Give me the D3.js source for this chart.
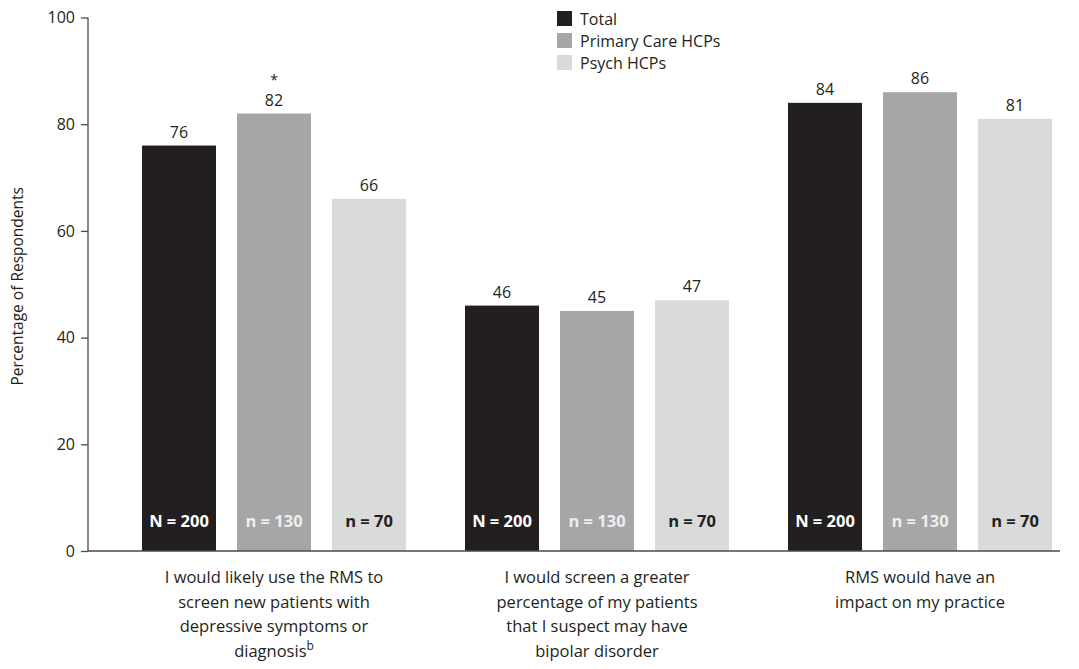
<!DOCTYPE html>
<html>
<head>
<meta charset="utf-8">
<script src="https://cdn.jsdelivr.net/npm/d3@7"></script>
<style>
  html, body { margin: 0; padding: 0; background: #fff; }
  svg { display: block; font-family: "Open Sans", "Noto Sans", sans-serif; }
</style>
</head>
<body>
<svg id="chart" width="1079" height="669"></svg>
<script>
// Survey statements (x categories), split into lines for display
const categories = ["use", "screen", "impact"];
const categoryLines = [
  ["I would likely use the RMS to", "screen new patients with", "depressive symptoms or", "diagnosis"],
  ["I would screen a greater", "percentage of my patients", "that I suspect may have", "bipolar disorder"],
  ["RMS would have an", "impact on my practice"]
];
const categoryFootnotes = ["b", "", ""];

// Respondent groups
const seriesNames = ["Total", "Primary Care HCPs", "Psych HCPs"];
const seriesSizes = ["N = 200", "n = 130", "n = 70"];

// Percentage of respondents agreeing, per group
const totalValues = [76, 46, 84];
const primaryCareValues = [82, 45, 86];
const psychValues = [66, 47, 81];
const seriesValues = [totalValues, primaryCareValues, psychValues];

// Significance marker per group per category
const significance = [["", "", ""], ["*", "", ""], ["", "", ""]];

const yTicks = [0, 20, 40, 60, 80, 100];

const colors = ["#231f20", "#a6a6a6", "#d9dada"];
const sizeLabelColors = ["#ffffff", "#eeeeee", "#231f20"];

const svg = d3.select("#chart");
const axisColor = "#4a4a4a";

const y = d3.scaleLinear().domain([0, 100]).range([551, 17.5]);
const x = d3.scaleBand().domain(categories).range([112.5, 1081.5]).paddingInner(0).paddingOuter(0);
const xInner = d3.scaleBand().domain(seriesNames).range([-132, 132]).paddingInner(0.221).paddingOuter(0);

// Y axis
const yAxis = svg.append("g")
  .attr("transform", "translate(88,0)")
  .call(d3.axisLeft(y).tickValues(yTicks).tickSize(7).tickPadding(6));
yAxis.select(".domain").attr("stroke", axisColor).attr("stroke-width", 1.3)
  .attr("d", `M0,${y(100)}V${y(0)}`);
yAxis.selectAll(".tick line").attr("stroke", axisColor).attr("stroke-width", 1.3);
yAxis.selectAll(".tick text")
  .attr("font-size", 16).attr("fill", "#231f20")
  .attr("font-family", "'Open Sans', sans-serif");

// Y axis title
svg.append("text")
  .attr("transform", `translate(23,${(y(0) + y(100)) / 2 + 2}) rotate(-90)`)
  .attr("text-anchor", "middle")
  .attr("font-size", 15.5).attr("fill", "#231f20")
  .text("Percentage of Respondents");

// Bars
const groups = svg.append("g").selectAll("g")
  .data(categories)
  .join("g")
  .attr("transform", c => `translate(${x(c) + x.bandwidth() / 2},0)`);

groups.each(function (c, ci) {
  const g = d3.select(this);
  seriesNames.forEach((s, si) => {
    const v = seriesValues[si][ci];
    const bx = xInner(s);
    const bw = xInner.bandwidth();
    g.append("rect")
      .attr("x", bx).attr("width", bw)
      .attr("y", y(v)).attr("height", y(0) - y(v))
      .attr("fill", colors[si]);
    // value label
    g.append("text")
      .attr("x", bx + bw / 2).attr("y", y(v) - 8)
      .attr("text-anchor", "middle")
      .attr("font-size", 16).attr("fill", "#231f20")
      .text(v);
    if (significance[si][ci]) {
      g.append("text")
        .attr("x", bx + bw / 2).attr("y", y(v) - 29)
        .attr("text-anchor", "middle")
        .attr("font-size", 14).attr("fill", "#231f20")
        .text(significance[si][ci]);
    }
    // group size label inside the bar
    g.append("text")
      .attr("x", bx + bw / 2).attr("y", y(0) - 24)
      .attr("text-anchor", "middle")
      .attr("font-size", 16.5).attr("font-weight", "bold")
      .attr("fill", sizeLabelColors[si])
      .text(seriesSizes[si]);
  });

  // category label
  const t = g.append("text")
    .attr("text-anchor", "middle")
    .attr("font-size", 16.5).attr("fill", "#231f20");
  categoryLines[ci].forEach((line, li) => {
    const ts = t.append("tspan")
      .attr("x", 0).attr("y", 583 + li * 24.5)
      .text(line);
    if (li === categoryLines[ci].length - 1 && categoryFootnotes[ci]) {
      ts.append("tspan")
        .attr("font-size", 12).attr("dy", -7)
        .text(categoryFootnotes[ci]);
    }
  });
});

// X axis baseline
svg.append("line")
  .attr("x1", 88).attr("x2", 1060)
  .attr("y1", y(0)).attr("y2", y(0))
  .attr("stroke", axisColor).attr("stroke-width", 1.3);

// Legend
const legend = svg.append("g").attr("transform", "translate(557,11)");
seriesNames.forEach((s, i) => {
  legend.append("rect")
    .attr("x", 0).attr("y", i * 22)
    .attr("width", 15).attr("height", 15)
    .attr("fill", colors[i]);
  legend.append("text")
    .attr("x", 23).attr("y", i * 22 + 13.5)
    .attr("font-size", 16).attr("fill", "#231f20")
    .text(s);
});
</script>
</body>
</html>
